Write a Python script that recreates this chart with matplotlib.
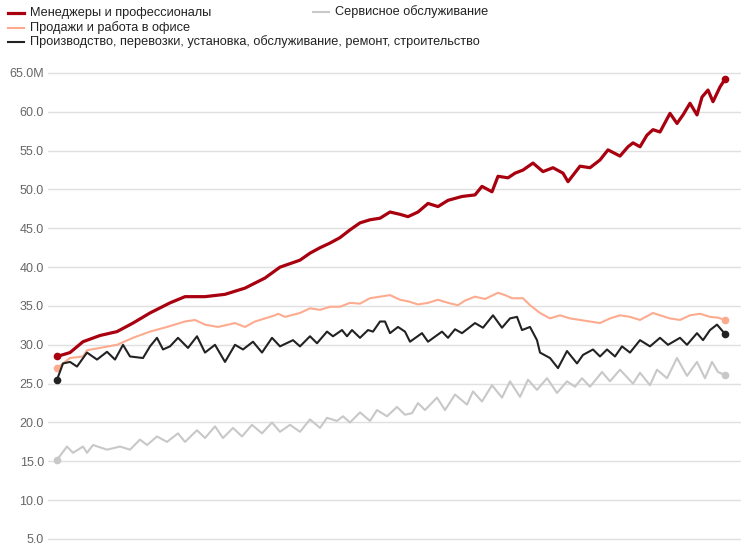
import numpy as np
import matplotlib.pyplot as plt
from matplotlib.lines import Line2D

# %% Data (years since start of series, millions of workers)

yrs_mgr = [0.0, 0.65, 1.3, 2.15, 3.0, 3.8, 4.65, 5.65, 6.4, 7.4, 8.4, 9.4, 10.4, 11.15,
           12.15, 12.65, 13.15, 13.65, 14.15, 14.65, 15.15, 15.65, 16.15, 16.65, 17.15,
           17.55, 18.05, 18.55, 19.05, 19.55, 20.25, 20.9, 21.25, 21.75, 22.05, 22.55,
           22.9, 23.3, 23.8, 24.3, 24.8, 25.3, 25.55, 26.15, 26.65, 27.15, 27.55, 28.15,
           28.55, 28.8, 29.15, 29.5, 29.8, 30.15, 30.65, 31.0, 31.3, 31.65, 32.0, 32.25,
           32.55, 32.8, 33.15, 33.4]
mgr = [28.5, 29.0, 30.4, 31.2, 31.7, 32.8, 34.1, 35.4, 36.2, 36.2, 36.5, 37.3, 38.6, 40.0,
       40.9, 41.8, 42.5, 43.1, 43.8, 44.8, 45.7, 46.1, 46.3, 47.1, 46.8,
       46.5, 47.1, 48.2, 47.8, 48.6, 49.1, 49.3, 50.4, 49.7, 51.7, 51.5,
       52.1, 52.5, 53.4, 52.3, 52.8, 52.1, 51.0, 53.0, 52.8, 53.8, 55.1, 54.3,
       55.5, 56.0, 55.5, 57.0, 57.7, 57.4, 59.8, 58.5, 59.6, 61.1, 59.6, 61.9,
       62.8, 61.3, 63.2, 64.2]

yrs_sales = [0.0, 0.65, 1.3, 1.5, 2.15, 3.0, 3.8, 4.65, 5.5, 6.4, 6.9, 7.4, 8.05, 8.9, 9.4,
             9.9, 10.4, 10.9, 11.05, 11.4, 12.15, 12.65, 13.15, 13.65, 14.15, 14.65, 15.15,
             15.65, 16.15, 16.65, 17.15, 17.55, 18.05, 18.55, 19.05, 19.55, 20.05, 20.4,
             20.9, 21.4, 22.05, 22.4, 22.75, 23.3, 23.65, 24.15, 24.65, 25.15, 25.65,
             26.15, 26.65, 27.15, 27.65, 28.15, 28.65, 29.15, 29.8, 30.15, 30.65, 31.15,
             31.65, 32.15, 32.65, 33.05, 33.4]
sales = [27.0, 28.3, 28.5, 29.3, 29.6, 30.0, 30.9, 31.7, 32.3, 33.0, 33.2, 32.6, 32.3, 32.8, 32.3,
         33.0, 33.4, 33.8, 34.0, 33.6, 34.1, 34.7, 34.5, 34.9, 34.9, 35.4, 35.3,
         36.0, 36.2, 36.4, 35.8, 35.6, 35.2, 35.4, 35.8, 35.4, 35.1, 35.7,
         36.2, 35.9, 36.7, 36.4, 36.0, 36.0, 35.1, 34.1, 33.4, 33.8, 33.4,
         33.2, 33.0, 32.8, 33.4, 33.8, 33.6, 33.2, 34.1, 33.8, 33.4, 33.2,
         33.8, 34.0, 33.6, 33.5, 33.2]

yrs_prod = [0.0, 0.3, 0.65, 1.0, 1.5, 2.0, 2.5, 2.9, 3.3, 3.65, 4.3, 4.65, 5.0, 5.3, 5.65,
            6.05, 6.55, 7.0, 7.4, 7.9, 8.4, 8.9, 9.3, 9.8, 10.25, 10.75, 11.15, 11.8, 12.15,
            12.65, 13.0, 13.5, 13.8, 14.25, 14.5, 14.75, 15.15, 15.55, 15.8, 16.15, 16.4,
            16.65, 17.05, 17.4, 17.65, 18.25, 18.55, 19.25, 19.55, 19.9, 20.25, 20.9, 21.3,
            21.8, 22.25, 22.65, 23.0, 23.25, 23.65, 24.0, 24.15, 24.65, 25.05, 25.5, 26.0,
            26.3, 26.8, 27.15, 27.5, 27.9, 28.25, 28.65, 29.15, 29.65, 30.15, 30.55, 31.15,
            31.5, 32.0, 32.3, 32.65, 33.0, 33.4]
prod = [25.5, 27.6, 27.8, 27.2, 29.0, 28.1, 29.1, 28.1, 30.0, 28.5, 28.3, 29.8, 30.9, 29.4, 29.8,
        30.9, 29.6, 31.1, 29.0, 30.0, 27.8, 30.0, 29.4, 30.4, 29.0, 30.9, 29.8, 30.6, 29.8,
        31.1, 30.2, 31.7, 31.1, 31.9, 31.1, 31.9, 30.9, 31.9, 31.7, 33.0, 33.0,
        31.5, 32.3, 31.7, 30.4, 31.5, 30.4, 31.7, 30.9, 32.0, 31.5, 32.8, 32.2,
        33.8, 32.2, 33.4, 33.6, 31.9, 32.3, 30.6, 29.0, 28.3, 27.0, 29.2, 27.6,
        28.7, 29.4, 28.5, 29.4, 28.5, 29.8, 29.0, 30.6, 29.8, 30.9, 30.0, 30.9,
        30.0, 31.5, 30.6, 31.9, 32.6, 31.4]

yrs_serv = [0.0, 0.5, 0.8, 1.3, 1.5, 1.8, 2.5, 3.15, 3.65, 4.15, 4.5, 5.0, 5.5, 6.05, 6.4,
            7.0, 7.4, 7.9, 8.3, 8.8, 9.25, 9.75, 10.25, 10.75, 11.15, 11.65, 12.15, 12.65,
            13.15, 13.5, 14.0, 14.3, 14.65, 15.15, 15.65, 16.0, 16.5, 17.0, 17.4, 17.75,
            18.05, 18.4, 19.0, 19.4, 19.9, 20.5, 20.8, 21.25, 21.75, 22.25, 22.65, 23.15,
            23.55, 24.0, 24.5, 25.0, 25.5, 25.9, 26.25, 26.65, 27.25, 27.65, 28.15, 28.8,
            29.15, 29.65, 30.0, 30.5, 31.0, 31.5, 32.0, 32.4, 32.75, 33.05, 33.4]
serv = [15.2, 16.9, 16.1, 16.9, 16.1, 17.1, 16.5, 16.9, 16.5, 17.8, 17.1, 18.2, 17.5, 18.6, 17.5,
        19.0, 18.0, 19.5, 18.0, 19.3, 18.2, 19.7, 18.6, 20.0, 18.8, 19.7, 18.8, 20.4,
        19.3, 20.6, 20.2, 20.8, 20.0, 21.3, 20.2, 21.6, 20.8, 22.0, 21.0, 21.2,
        22.5, 21.6, 23.2, 21.6, 23.6, 22.3, 24.0, 22.7, 24.8, 23.2, 25.3, 23.3,
        25.5, 24.2, 25.7, 23.8, 25.3, 24.6, 25.7, 24.6, 26.5, 25.3, 26.8, 25.0,
        26.4, 24.8, 26.8, 25.7, 28.3, 26.0, 27.8, 25.7, 27.8, 26.5, 26.1]

labels = ["Менеджеры и профессионалы", "Сервисное обслуживание",
          "Продажи и работа в офисе",
          "Производство, перевозки, установка, обслуживание, ремонт, строительство"]
colors = ["#a8000f", "#c8c8c8", "#fdab8f", "#222222"]
yticks = [5, 10, 15, 20, 25, 30, 35, 40, 45, 50, 55, 60, 65]

plt.rcParams['font.family'] = ['Liberation Sans', 'DejaVu Sans']

# %% Plot

fig = plt.figure(figsize=(7.41, 5.56), dpi=100)
ax = fig.add_axes([48 / 741, 0, 693 / 741, 496 / 556])

series = [(yrs_serv, serv, colors[1], 1.5),
          (yrs_sales, sales, colors[2], 1.5),
          (yrs_prod, prod, colors[3], 1.5),
          (yrs_mgr, mgr, colors[0], 2.3)]
for xs, ys, c, lw in series:
    ax.plot(xs, ys, color=c, lw=lw, solid_joinstyle='round')
    ax.plot([xs[0], xs[-1]], [ys[0], ys[-1]], 'o', color=c, ms=5.5, mec='none')

ax.set_xlim(-0.45, 34.2)
ax.set_ylim(2.81, 66.67)
ax.set_yticks(yticks)
ax.set_yticklabels([f"{v:.1f}" + ("M" if v == 65 else "") for v in yticks])
ax.set_xticks([])
ax.grid(axis='y', color='#e0e0e0', lw=1)
ax.set_axisbelow(True)
ax.tick_params(axis='y', length=0, pad=3, labelsize=9, labelcolor='#666666')
for s in ax.spines.values():
    s.set_visible(False)

# legend drawn by hand: three rows, service entry sits in a second column
W, H = 741, 556
legend_pos = [(8, 13), (313, 12), (8, 28), (8, 42)]
for (px, py), lab, c, lw in zip(legend_pos, labels, colors, [2.3, 1.5, 1.5, 1.5]):
    fig.add_artist(Line2D([px / W, (px + 16) / W], [1 - py / H, 1 - py / H],
                          color=c, lw=lw, transform=fig.transFigure))
    fig.text((px + 22) / W, 1 - py / H, lab, fontsize=9.2, color='#222222',
             va='center', ha='left')

fig.savefig("out.png", dpi=100)
